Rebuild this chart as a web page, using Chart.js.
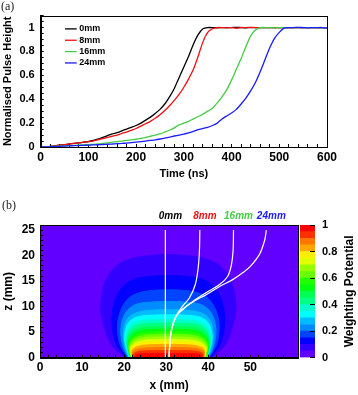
<!DOCTYPE html>
<html>
<head>
<meta charset="utf-8">
<script src="https://cdn.jsdelivr.net/npm/chart.js@4.4.0/dist/chart.umd.min.js"></script>
<style>
  html, body { margin: 0; padding: 0; background: #fff; }
  #page { position: relative; width: 358px; height: 395px; overflow: hidden; }
  canvas { position: absolute; }
  .tag { position: absolute; font: 12px "Liberation Serif", "DejaVu Serif", serif; color: #222; }
</style>
</head>
<body>
<div id="page">
  <canvas id="pulse" style="left:0;top:0" width="358" height="190"></canvas>
  <canvas id="field" style="left:0;top:190px" width="358" height="205"></canvas>
  <canvas id="scale" style="left:296px;top:190px" width="62" height="205"></canvas>
  <div class="tag" style="left:1px;top:-1px">(a)</div>
  <div class="tag" style="left:2px;top:198px">(b)</div>
</div>
<script>
// ---- panel (a): pulse height vs time ----
var timeNs = [0, 10, 20, 30, 40, 50, 60, 70, 80, 90, 100, 110, 120, 130, 140, 150, 160, 170, 180, 190,
  200, 210, 220, 230, 240, 250, 260, 270, 280, 290, 300, 310, 320, 330, 340, 350, 360, 370, 380, 390,
  400, 410, 420, 430, 440, 450, 460, 470, 480, 490, 500, 510, 520, 530, 540, 550, 560, 570, 580, 590, 600];

var pulse0mm = [0, 0, 0.005, 0.01, 0.015, 0.02, 0.025, 0.03, 0.035, 0.04, 0.045, 0.055, 0.065, 0.08, 0.095, 0.11, 0.12, 0.135, 0.15, 0.165,
  0.18, 0.2, 0.225, 0.25, 0.28, 0.315, 0.36, 0.42, 0.49, 0.58, 0.67, 0.76, 0.86, 0.94, 0.99, 1.0, 1.0, 0.998, 1.0, 1.0,
  1.0, 1.002, 1.0, 0.998, 1.0, 1.0, 1.0, 1.0, 1.0, 1.0, 1.0, 1.0, 1.0, 1.0, 1.0, 1.0, 1.0, 1.0, 1.0, 1.0, 1.0];
var pulse8mm = [0, 0, 0.005, 0.01, 0.015, 0.02, 0.025, 0.03, 0.035, 0.04, 0.045, 0.05, 0.06, 0.07, 0.08, 0.09, 0.1, 0.113, 0.125, 0.14,
  0.155, 0.175, 0.195, 0.215, 0.24, 0.27, 0.305, 0.345, 0.39, 0.44, 0.5, 0.57, 0.65, 0.76, 0.88, 0.96, 0.99, 1.0, 1.0, 0.998,
  1.0, 0.994, 1.0, 1.0, 1.002, 1.0, 1.0, 1.0, 1.0, 1.0, 1.0, 1.0, 1.0, 1.0, 1.0, 1.0, 1.0, 1.0, 1.0, 1.0, 1.0];
var pulse16mm = [0, 0, 0.003, 0.005, 0.008, 0.01, 0.012, 0.014, 0.016, 0.018, 0.02, 0.022, 0.025, 0.03, 0.035, 0.04, 0.045, 0.05, 0.055, 0.06,
  0.065, 0.072, 0.08, 0.09, 0.1, 0.11, 0.125, 0.14, 0.16, 0.185, 0.2, 0.215, 0.235, 0.255, 0.275, 0.3, 0.325, 0.37, 0.42, 0.48,
  0.56, 0.65, 0.74, 0.84, 0.93, 0.98, 1.0, 1.0, 1.0, 0.998, 1.0, 1.0, 1.0, 1.0, 1.0, 1.0, 1.0, 1.0, 1.0, 1.0, 1.0];
var pulse24mm = [0, 0, 0.002, 0.004, 0.006, 0.008, 0.01, 0.011, 0.012, 0.014, 0.015, 0.017, 0.019, 0.021, 0.023, 0.025, 0.028, 0.03, 0.033, 0.036,
  0.04, 0.045, 0.05, 0.055, 0.06, 0.067, 0.075, 0.083, 0.092, 0.1, 0.108, 0.118, 0.13, 0.145, 0.155, 0.165, 0.18, 0.2, 0.235, 0.26,
  0.285, 0.315, 0.36, 0.41, 0.47, 0.54, 0.63, 0.73, 0.83, 0.91, 0.96, 0.995, 1.0, 1.0, 1.002, 1.0, 0.998, 1.0, 1.0, 1.0, 0.995];

var seriesLabels = ['0mm', '8mm', '16mm', '24mm'];
var seriesColors = ['#000000', '#f01010', '#44cc44', '#1a1aff'];

// ---- panel (b): weighting potential map and drift paths ----
var levelColors = ['#6200ff', '#3300ff', '#0300ff', '#0044ff', '#008bff', '#00bbff', '#00fffc', '#00ffcc', '#00ff85', '#00ff55',
  '#00ff0e', '#22ff00', '#69ff00', '#99ff00', '#e0ff00', '#ffee00', '#ffa700', '#ff7700', '#ff3000', '#ff0000'];
var levelEdges = [0, 0.05, 0.1, 0.15, 0.2, 0.25, 0.3, 0.35, 0.4, 0.45, 0.5, 0.55, 0.6, 0.65, 0.7, 0.75, 0.8, 0.85, 0.9, 0.95, 1];
var fieldCentre = 30.5;

// left half of each contour band (x mm, z mm), foot to top; bands 0.05 .. 0.95
var bandLeftEdges = [
  [[20.3, 0], [17.5, 2], [16.1, 3.9], [14.6, 8.4], [14.5, 10.5], [15.0, 13.6], [16.1, 15.9], [18.1, 17.9], [20.9, 19.2], [24.1, 19.8], [30.5, 20.2]],
  [[20.6, 0], [18.6, 2], [17.6, 4], [17.1, 7], [17.3, 9.5], [18.2, 12], [19.8, 14], [22.5, 15.4], [26, 15.9], [30.5, 16.1]],
  [[20.8, 0], [19.3, 2], [18.6, 4], [18.4, 6], [18.7, 8], [19.7, 10.2], [21.6, 12], [25, 13], [30.5, 13.3]],
  [[21.0, 0], [19.8, 2], [19.3, 4], [19.2, 5.5], [19.6, 7.5], [20.8, 9.3], [23, 10.5], [26.5, 10.9], [30.5, 11.0]],
  [[21.1, 0], [20.2, 2], [19.8, 4], [19.9, 5.5], [20.5, 7.2], [22, 8.5], [25, 9.2], [30.5, 9.4]],
  [[21.2, 0], [20.5, 2], [20.1, 3.8], [20.3, 5.3], [21.0, 6.8], [22.8, 7.9], [26, 8.3], [30.5, 8.4]],
  [[21.3, 0], [20.7, 1.8], [20.4, 3.4], [20.7, 4.9], [21.5, 6.2], [23.3, 7.1], [26.5, 7.45], [30.5, 7.5]],
  [[21.4, 0], [20.9, 1.7], [20.6, 3.1], [20.9, 4.5], [21.8, 5.7], [23.6, 6.5], [26.8, 6.75], [30.5, 6.8]],
  [[21.5, 0], [21.0, 1.6], [20.8, 2.9], [21.1, 4.1], [22.0, 5.1], [23.9, 5.85], [27, 6.05], [30.5, 6.1]],
  [[21.55, 0], [21.1, 1.5], [20.95, 2.7], [21.3, 3.8], [22.3, 4.7], [24.2, 5.35], [27.2, 5.55], [30.5, 5.6]],
  [[21.6, 0], [21.2, 1.4], [21.1, 2.5], [21.5, 3.5], [22.6, 4.3], [24.5, 4.85], [27.5, 5.05], [30.5, 5.1]],
  [[21.7, 0], [21.3, 1.3], [21.2, 2.3], [21.7, 3.2], [22.8, 3.9], [24.8, 4.4], [27.7, 4.55], [30.5, 4.6]],
  [[21.8, 0], [21.4, 1.2], [21.35, 2.1], [21.9, 2.9], [23.0, 3.5], [25, 3.95], [27.8, 4.07], [30.5, 4.1]],
  [[21.9, 0], [21.55, 1.1], [21.5, 1.9], [22.1, 2.6], [23.2, 3.1], [25.2, 3.47], [28, 3.58], [30.5, 3.6]],
  [[22.0, 0], [21.7, 1.0], [21.7, 1.7], [22.3, 2.3], [23.5, 2.7], [25.5, 3.0], [28, 3.08], [30.5, 3.1]],
  [[22.1, 0], [21.85, 0.9], [21.9, 1.45], [22.5, 1.95], [23.7, 2.3], [25.7, 2.52], [28.2, 2.59], [30.5, 2.6]],
  [[22.2, 0], [22.0, 0.7], [22.1, 1.15], [22.8, 1.55], [24, 1.8], [26, 1.95], [30.5, 2.0]],
  [[22.35, 0], [22.2, 0.5], [22.4, 0.85], [23.2, 1.15], [24.5, 1.32], [26.5, 1.38], [30.5, 1.4]],
  [[22.5, 0], [22.5, 0.35], [23.0, 0.6], [24, 0.74], [26, 0.79], [30.5, 0.8]]
];

var path0mm = [[29.8, 0], [29.8, 25]];
var path8mm = [[30.7, 0], [30.8, 1.9], [31.2, 5.2], [32.3, 8.1], [33.9, 10.1], [35.5, 11.7], [36.9, 14.3], [37.6, 17.6], [37.9, 21], [38.0, 25]];
var path16mm = [[30.7, 0], [30.8, 2], [31.2, 5.2], [32.2, 7.9], [33.9, 9.4], [36.3, 11.0], [39.4, 12.7], [42.6, 14.3], [44.6, 15.9], [45.5, 18.2], [45.9, 21], [46.0, 25]];
var path24mm = [[30.7, 0], [30.8, 2], [31.2, 5.2], [32.3, 8.0], [34.0, 9.6], [36.5, 11.0], [39.6, 12.4], [42.6, 13.9], [45.8, 15.3], [48.1, 16.6], [50.0, 17.9], [52.2, 20.3], [53.4, 23.0], [53.8, 25]];
var driftPaths = [path0mm, path8mm, path16mm, path24mm];

Chart.defaults.font.family = '"Liberation Sans", Arial, sans-serif';
Chart.defaults.color = '#000';

function boldFont(size) { return { family: '"Liberation Sans", Arial, sans-serif', size: size, weight: 'bold' }; }

// box round the plot area
var framePlugin = {
  id: 'frame',
  afterDraw: function(chart) {
    var a = chart.chartArea, ctx = chart.ctx;
    ctx.save();
    ctx.strokeStyle = '#000';
    ctx.lineWidth = 1;
    ctx.strokeRect(Math.round(a.left) + 0.5, Math.round(a.top) + 0.5, Math.round(a.right - a.left), Math.round(a.bottom - a.top));
    ctx.restore();
  }
};

// ROOT style key inside the top left corner
var insetKey = {
  id: 'insetKey',
  afterDatasetsDraw: function(chart) {
    var ctx = chart.ctx, a = chart.chartArea;
    ctx.save();
    ctx.font = 'bold 9px "Liberation Sans", Arial, sans-serif';
    ctx.textBaseline = 'middle';
    chart.data.datasets.forEach(function(ds, i) {
      var y = a.top + 13.3 + i * 11.35;
      ctx.strokeStyle = ds.borderColor;
      ctx.lineWidth = 1.3;
      ctx.beginPath();
      ctx.moveTo(a.left + 24.3, y);
      ctx.lineTo(a.left + 36, y);
      ctx.stroke();
      ctx.fillStyle = '#000';
      ctx.fillText(ds.label, a.left + 38.6, y);
    });
    ctx.restore();
  }
};

new Chart(document.getElementById('pulse'), {
  type: 'line',
  data: {
    labels: timeNs,
    datasets: [pulse0mm, pulse8mm, pulse16mm, pulse24mm].map(function(vals, i) {
      return {
        label: seriesLabels[i],
        data: vals.map(function(v, j) { return { x: timeNs[j], y: v }; }),
        borderColor: seriesColors[i],
        borderWidth: 1.3,
        pointRadius: 0,
        tension: 0.2,
        fill: false,
        order: 4 - i
      };
    })
  },
  options: {
    responsive: false,
    animation: false,
    layout: { padding: { left: 0, right: 31, top: 12.7, bottom: 0 } },
    plugins: { legend: { display: false }, tooltip: { enabled: false } },
    scales: {
      x: {
        type: 'linear', min: 0, max: 600,
        grid: { drawOnChartArea: false, tickLength: -3, color: '#000' },
        border: { color: '#000' },
        ticks: {
          stepSize: 20, autoSkip: false, maxRotation: 0, padding: 6, font: boldFont(12),
          callback: function(v) { return v % 100 === 0 ? String(v) : ''; }
        },
        title: { display: true, text: 'Time (ns)', font: boldFont(11), padding: { top: 0, bottom: 9 } },
        afterFit: function(s) { s.height = 43; }
      },
      y: {
        type: 'linear', min: 0, max: 1.1,
        grid: { drawOnChartArea: false, tickLength: -3, color: '#000' },
        border: { color: '#000' },
        ticks: {
          stepSize: 0.05, autoSkip: false, padding: 9, font: boldFont(11),
          callback: function(v) { var r = Math.round(v * 100); return r % 20 === 0 ? String(r / 100) : ''; }
        },
        title: { display: true, text: 'Normalised Pulse Height', font: boldFont(11), padding: { top: 1, bottom: 0 } },
        afterFit: function(s) { s.width = 40.7; }
      }
    }
  },
  plugins: [insetKey, framePlugin]
});

// purple floor of the map
var mapFloor = {
  id: 'mapFloor',
  beforeDatasetsDraw: function(chart) {
    var a = chart.chartArea, ctx = chart.ctx;
    ctx.save();
    ctx.fillStyle = levelColors[0];
    ctx.fillRect(a.left, a.top, a.right - a.left, a.bottom - a.top);
    ctx.restore();
  }
};

// coloured names over the top of each drift path
var pathTags = {
  id: 'pathTags',
  afterDraw: function(chart) {
    var ctx = chart.ctx, xs = chart.scales.x, top = chart.chartArea.top;
    ctx.save();
    ctx.font = 'italic bold 10px "Liberation Sans", Arial, sans-serif';
    ctx.textAlign = 'center';
    ctx.textBaseline = 'middle';
    driftPaths.forEach(function(p, i) {
      var end = p[p.length - 1];
      ctx.fillStyle = seriesColors[i];
      ctx.fillText(seriesLabels[i], xs.getPixelForValue(end[0]) + 5, top - 9);
    });
    ctx.restore();
  }
};

function bandOutline(left) {
  var pts = left.map(function(p) { return { x: p[0], y: p[1] }; });
  for (var i = left.length - 2; i >= 0; i--) {
    pts.push({ x: 2 * fieldCentre - left[i][0], y: left[i][1] });
  }
  return pts;
}

var fieldSets = bandLeftEdges.map(function(edge, k) {
  return {
    label: 'band ' + levelEdges[k + 1],
    data: bandOutline(edge),
    borderColor: levelColors[k + 1],
    backgroundColor: levelColors[k + 1],
    borderWidth: 1,
    pointRadius: 0,
    tension: 0.35,
    fill: 'shape',
    order: 100 - k
  };
});
driftPaths.forEach(function(p, i) {
  fieldSets.push({
    label: seriesLabels[i],
    data: p.map(function(q) { return { x: q[0], y: q[1] }; }),
    borderColor: '#ffffff',
    borderWidth: 1.2,
    pointRadius: 0,
    tension: 0.35,
    fill: false,
    order: 0
  });
});

new Chart(document.getElementById('field'), {
  type: 'line',
  data: { datasets: fieldSets },
  options: {
    responsive: false,
    animation: false,
    layout: { padding: { left: 0, right: 59.7, top: 35, bottom: 0 } },
    plugins: { legend: { display: false }, tooltip: { enabled: false } },
    scales: {
      x: {
        type: 'linear', min: 0, max: 61.4,
        grid: { drawOnChartArea: false, tickLength: -3, color: '#000', z: 1 },
        border: { color: '#000', z: 1 },
        ticks: {
          stepSize: 2, autoSkip: false, maxRotation: 0, padding: 6, font: boldFont(12),
          callback: function(v) { return v % 10 === 0 ? String(v) : ''; }
        },
        title: { display: true, text: 'x (mm)', font: boldFont(12), padding: { top: 0, bottom: 2 } },
        afterFit: function(s) { s.height = 37.3; }
      },
      y: {
        type: 'linear', min: 0, max: 26,
        grid: { drawOnChartArea: false, tickLength: -3, color: '#000', z: 1 },
        border: { color: '#000', z: 1 },
        ticks: {
          stepSize: 1, autoSkip: false, padding: 8, font: boldFont(12),
          callback: function(v) { return v % 5 === 0 ? String(v) : ''; }
        },
        title: { display: true, text: 'z (mm)', font: boldFont(12), padding: { top: 1, bottom: 0 } },
        afterFit: function(s) { s.width = 40; }
      }
    }
  },
  plugins: [mapFloor, pathTags, framePlugin]
});

// colour scale for the map
var scaleTitle = {
  id: 'scaleTitle',
  afterDraw: function(chart) {
    var ctx = chart.ctx, a = chart.chartArea;
    ctx.save();
    ctx.translate(54, (a.top + a.bottom) / 2);
    ctx.rotate(-Math.PI / 2);
    ctx.font = 'bold 12px "Liberation Sans", Arial, sans-serif';
    ctx.textAlign = 'center';
    ctx.textBaseline = 'middle';
    ctx.fillStyle = '#000';
    ctx.fillText('Weighting Potential', 0, 0);
    ctx.restore();
  }
};

new Chart(document.getElementById('scale'), {
  type: 'bar',
  data: {
    labels: [''],
    datasets: levelColors.map(function(c, k) {
      return {
        label: String(levelEdges[k]),
        data: [[levelEdges[k], levelEdges[k + 1]]],
        backgroundColor: c,
        borderWidth: 0,
        grouped: false,
        barPercentage: 1,
        categoryPercentage: 1
      };
    })
  },
  options: {
    responsive: false,
    animation: false,
    layout: { padding: { left: 4, right: 0, top: 35, bottom: 37.3 } },
    plugins: { legend: { display: false }, tooltip: { enabled: false } },
    scales: {
      x: { display: false },
      y: {
        position: 'right', min: 0, max: 1,
        grid: { drawOnChartArea: false, tickLength: -5, color: '#000', z: 1 },
        border: { display: false },
        ticks: {
          stepSize: 0.2, padding: 12, font: boldFont(11),
          callback: function(v) { return String(Math.round(v * 10) / 10); }
        },
        afterFit: function(s) { s.width = 43; }
      }
    }
  },
  plugins: [scaleTitle]
});
</script>
</body>
</html>
